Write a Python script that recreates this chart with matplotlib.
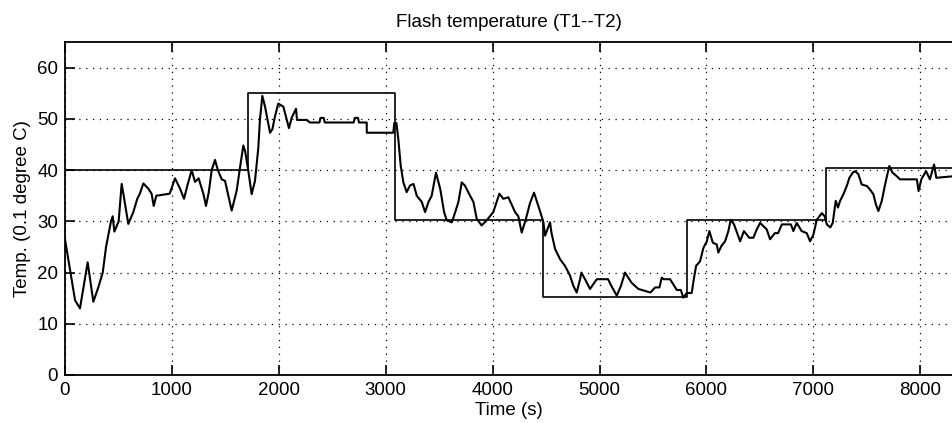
import matplotlib
matplotlib.use("Agg")
import matplotlib.pyplot as plt

plt.rcParams['font.family'] = ['Liberation Sans', 'DejaVu Sans']

# Setpoint (step reference)
sp_time = [0, 1712, 3087, 4474, 5815, 7122, 8306]
sp_value = [40.0, 55.0, 30.2, 15.3, 30.3, 40.5, 40.5]

# Measured flash temperature
meas_time = [0, 94, 140, 212, 265, 310, 353, 384, 430, 446, 462, 502, 530, 545,
             592, 639, 676, 700, 733, 779, 810, 830, 854, 979, 1029, 1076, 1113,
             1150, 1185, 1216, 1250, 1294, 1319, 1345, 1372, 1403, 1430, 1466,
             1497, 1559, 1606, 1637, 1668, 1685, 1715, 1746, 1777, 1808, 1824,
             1846, 1871, 1918, 1940, 1964, 1995, 2042, 2068, 2095, 2120, 2161,
             2170, 2260, 2292, 2380, 2390, 2420, 2430, 2700, 2710, 2740, 2750,
             2822, 2823, 3071, 3080, 3100, 3118, 3140, 3165, 3196, 3227, 3260,
             3290, 3337, 3368, 3400, 3430, 3470, 3510, 3546, 3571, 3618, 3650,
             3680, 3711, 3740, 3789, 3820, 3851, 3897, 3944, 4006, 4063, 4100,
             4147, 4210, 4240, 4272, 4310, 4350, 4387, 4443, 4475, 4490, 4537,
             4550, 4584, 4631, 4677, 4724, 4755, 4786, 4818, 4830, 4864, 4911,
             4974, 5080, 5110, 5161, 5200, 5238, 5300, 5363, 5476, 5520, 5560,
             5582, 5600, 5660, 5722, 5760, 5784, 5815, 5862, 5880, 5903, 5940,
             5971, 6003, 6027, 6060, 6096, 6111, 6140, 6174, 6205, 6227, 6258,
             6315, 6350, 6400, 6439, 6470, 6502, 6564, 6595, 6640, 6670, 6705,
             6790, 6813, 6844, 6890, 6938, 6969, 7000, 7032, 7079, 7105, 7126,
             7158, 7181, 7209, 7230, 7250, 7281, 7312, 7337, 7368, 7390, 7421,
             7452, 7500, 7530, 7561, 7585, 7608, 7640, 7665, 7692, 7711, 7740,
             7781, 7810, 7968, 7984, 8010, 8054, 8090, 8129, 8150, 8306]
meas_value = [26.5, 14.6, 13.0, 22.0, 14.3, 17.0, 20.0, 25.0, 30.0, 31.0, 28.0, 30.0, 37.3, 35.5,
              29.5, 31.8, 34.4, 35.4, 37.4, 36.4, 35.4, 33.0, 35.0, 35.4, 38.4, 36.4, 34.4,
              37.4, 40.0, 37.7, 38.4, 35.4, 33.0, 35.7, 40.0, 42.0, 40.0, 38.2,
              37.9, 32.1, 36.0, 40.5, 44.8, 43.7, 39.8, 35.3, 37.9, 44.3, 50.0,
              54.5, 52.4, 47.3, 48.0, 50.5, 53.0, 52.4, 50.3, 48.2, 50.2, 52.0,
              49.8, 49.8, 49.3, 49.3, 50.2, 50.2, 49.3, 49.3, 50.2, 50.2, 49.3,
              49.3, 47.3, 47.3, 49.2, 49.2, 46.0, 40.9, 37.6, 35.7, 37.0, 37.3,
              35.0, 33.8, 31.8, 33.8, 35.0, 39.5, 36.3, 31.8, 30.2, 29.8, 31.8,
              33.8, 37.6, 37.0, 35.0, 33.8, 30.5, 29.2, 30.2, 31.8, 35.4, 34.4,
              34.7, 31.8, 31.0, 27.8, 30.4, 33.6, 35.6, 32.0, 29.8, 27.2, 29.8,
              27.8, 24.6, 22.6, 21.3, 19.4, 17.4, 16.1, 18.7, 20.0, 18.7, 16.8,
              18.7, 18.7, 17.4, 15.5, 17.4, 20.0, 18.0, 16.8, 16.1, 17.1, 17.1,
              19.0, 18.7, 18.7, 16.6, 16.6, 15.1, 16.0, 16.0, 18.5, 21.3, 22.2,
              24.8, 26.1, 28.1, 25.8, 25.5, 23.9, 25.2, 26.1, 28.1, 30.3, 29.4,
              26.1, 28.1, 26.8, 26.8, 28.4, 29.7, 28.4, 26.5, 27.7, 27.7, 29.4,
              29.4, 28.1, 29.7, 28.1, 27.7, 26.1, 27.4, 30.3, 31.6, 31.0, 29.4,
              28.8, 29.7, 34.0, 32.7, 34.0, 35.3, 36.9, 38.5, 39.5, 39.8, 39.2,
              37.2, 36.9, 36.2, 35.3, 33.3, 32.0, 34.0, 36.6, 39.2, 40.8, 39.5,
              38.8, 38.2, 38.2, 35.9, 38.2, 39.8, 38.2, 41.1, 38.5, 38.8]

x_ticks = [0, 1000, 2000, 3000, 4000, 5000, 6000, 7000, 8000]
y_ticks = [0, 10, 20, 30, 40, 50, 60]

fig = plt.figure(figsize=(9.53, 4.23), dpi=100)
ax = fig.add_axes([0.0682, 0.1135, 0.9318, 0.787])

ax.step(sp_time, sp_value, where='post', color='black', lw=1.2)
ax.plot(meas_time, meas_value, color='black', lw=1.5)

ax.set_xlim(0, 8306)
ax.set_ylim(0, 65)
ax.set_xticks(x_ticks)
ax.set_yticks(y_ticks)
ax.grid(True, color='black', linestyle=(0, (1, 4.5)), lw=0.9)
ax.tick_params(direction='in', length=7, width=1.2, labelsize=13.5,
               top=True, right=False, pad=5)
for s in ['left', 'bottom', 'top']:
    ax.spines[s].set_linewidth(1.3)
ax.spines['right'].set_visible(False)

ax.set_title('Flash temperature (T1--T2)', fontsize=13.5, pad=11)
ax.set_xlabel('Time (s)', fontsize=13.5, labelpad=2)
ax.set_ylabel('Temp. (0.1 degree C)', fontsize=13.5, labelpad=4)

fig.savefig('out.png', dpi=100)
